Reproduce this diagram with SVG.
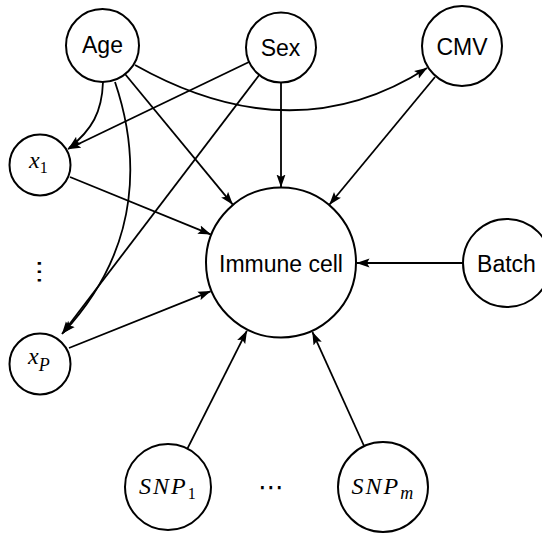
<svg xmlns="http://www.w3.org/2000/svg" width="542" height="536" viewBox="0 0 542 536">
<style>
  .node { fill: #fff; stroke: #000; stroke-width: 2; }
  .lbl { font-family: "Liberation Sans", Arial, sans-serif; font-size: 23px; fill: #000; text-anchor: middle; }
  .math { font-family: "Liberation Serif", "Times New Roman", serif; font-style: italic; font-size: 24px; fill: #000; }
  .sub { font-style: normal; font-size: 16px; }
  .dots { font-family: "DejaVu Serif", "DejaVu Sans", serif; fill: #000; text-anchor: middle; }
  .edge { fill: none; stroke: #000; stroke-width: 1.8; marker-end: url(#arr); }
</style>
<defs>
  <marker id="arr" viewBox="0 0 13 10" refX="12.5" refY="5" markerWidth="13" markerHeight="10" markerUnits="userSpaceOnUse" orient="auto">
    <path d="M0,0.5 L13,5 L0,9.5 L2.5,5 z" fill="#000"/>
  </marker>
</defs>
<rect width="542" height="536" fill="#fff"/>
<g id="connectors">
  <path class="edge" d="M103,82 C102,112 92,130 69,148"/>
  <path class="edge" d="M249,62 L68,149"/>
  <path class="edge" d="M115,82 C138,150 145,245 63,333"/>
  <path class="edge" d="M260,74 L62,334"/>
  <path class="edge" d="M125,74 L232.6,204.4"/>
  <path class="edge" d="M135,65 Q293,154 427,68"/>
  <path class="edge" d="M281,82 L281,187"/>
  <path class="edge" d="M435,77 L329.5,204.5"/>
  <path class="edge" d="M70,177 L210.6,234.3"/>
  <path class="edge" d="M69,348 L210.5,291.3"/>
  <path class="edge" d="M463,263 L357,263"/>
  <path class="edge" d="M187.4,448.6 L246.8,330.9"/>
  <path class="edge" d="M364.3,446.5 L312.5,332.2"/>
</g>
<g id="age"><circle class="node" cx="102.5" cy="45.5" r="36.5"/><text class="lbl" x="102.5" y="53">Age</text></g>
<g id="sex"><circle class="node" cx="281" cy="47.5" r="35"/><text class="lbl" x="280.5" y="55.5">Sex</text></g>
<g id="cmv"><circle class="node" cx="462" cy="46" r="40"/><text class="lbl" x="462" y="55">CMV</text></g>
<g id="x1"><circle class="node" cx="40" cy="165" r="30.5"/><text class="math" x="29" y="168">x<tspan class="sub" dy="5">1</tspan></text></g>
<g id="vdots"><text class="dots" x="40" y="281" font-size="26" transform="rotate(90 40 272)">⋯</text></g>
<g id="xP"><circle class="node" cx="40" cy="364" r="30.5"/><text class="math" x="28" y="364">x<tspan font-size="18" dy="7">P</tspan></text></g>
<g id="immune"><circle class="node" cx="281" cy="262.5" r="75"/><text class="lbl" x="281" y="272" font-size="24">Immune cell</text></g>
<g id="batch"><circle class="node" cx="507" cy="263" r="44"/><text class="lbl" x="506.5" y="272">Batch</text></g>
<g id="snp1"><circle class="node" cx="168" cy="487" r="43"/><text class="math" x="139" y="494" font-size="23" letter-spacing="2">SNP<tspan class="sub" letter-spacing="0" font-size="17" dy="5">1</tspan></text></g>
<g id="hdots"><text class="dots" x="271" y="496" font-size="26">⋯</text></g>
<g id="snpm"><circle class="node" cx="383" cy="487" r="45"/><text class="math" x="351.5" y="494" font-size="23" letter-spacing="2">SNP<tspan font-size="18" letter-spacing="0" dy="5">m</tspan></text></g>
</svg>
